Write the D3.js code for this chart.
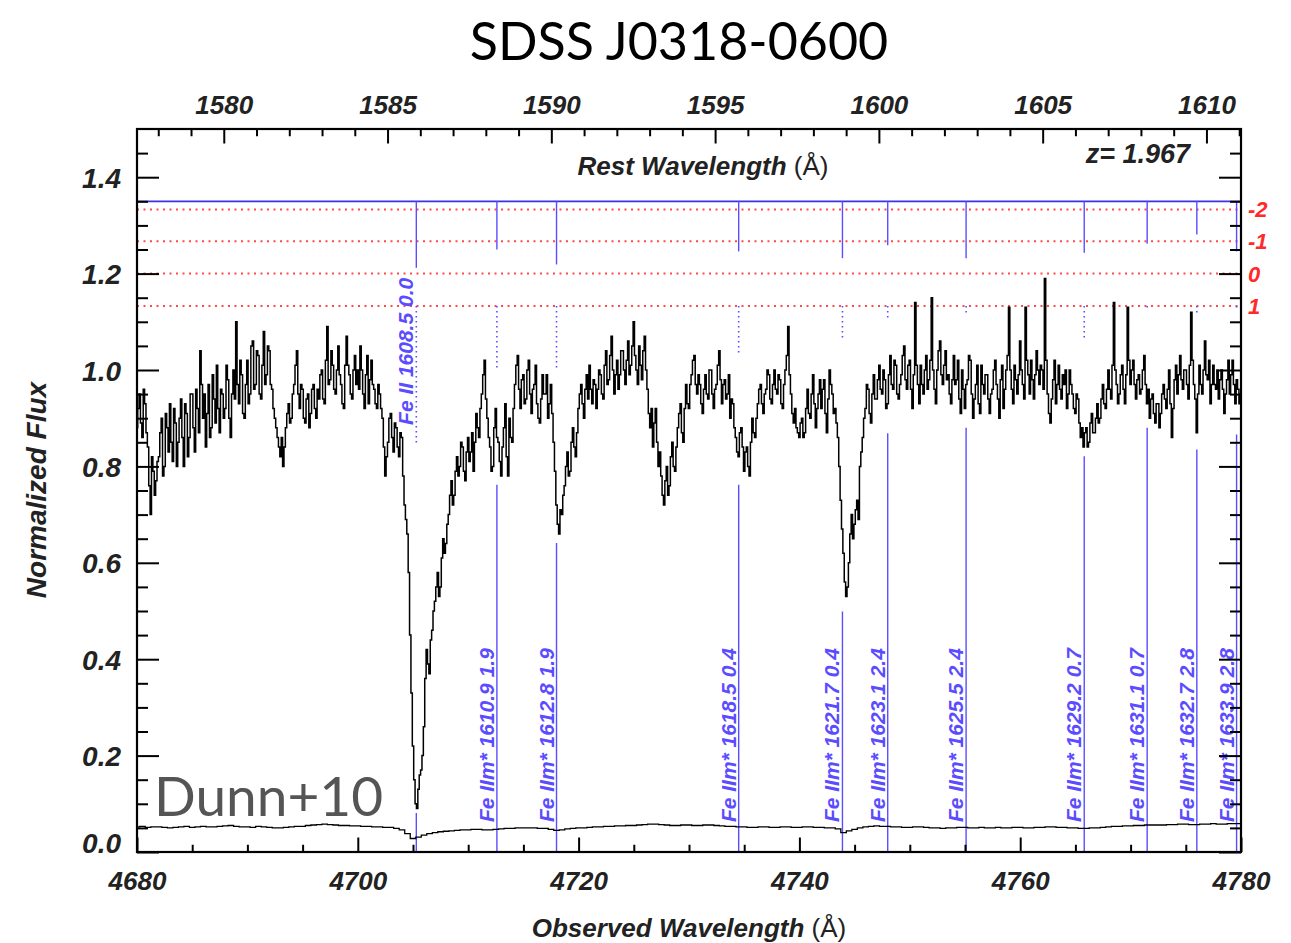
<!DOCTYPE html>
<html>
<head>
<meta charset="utf-8">
<script src="https://cdn.jsdelivr.net/npm/d3@7"></script>
<style>
  html, body { margin: 0; padding: 0; background: #fff; }
  svg { display: block; }
  .tl text { font-family: "Liberation Sans", Arial, sans-serif; font-weight: bold; font-style: italic; font-size: 26px; fill: #222; }
  .tly text { font-size: 28px; }
</style>
</head>
<body>
<svg id="chart" width="1291" height="943"></svg>
<script>
// ---------------- data ----------------
const title = "SDSS J0318-0600";
const redshift = 1.967;
const xDomain = [4680, 4780];
const yDomain = [0, 1.5];
const bottomTicks = [4680, 4700, 4720, 4740, 4760, 4780];
const leftTicks = [0.0, 0.2, 0.4, 0.6, 0.8, 1.0, 1.2, 1.4];
const topTicks = [1580, 1585, 1590, 1595, 1600, 1605, 1610];

// normalized flux sampled every 0.125 Å from 4680 Å (one row per Å)
const fluxStart = 4680, fluxStep = 0.125;
const flux = [
  0.88,0.92,0.95,0.89,0.86,0.96,0.93,0.87, // 4680
  0.84,0.76,0.70,0.82,0.79,0.74,0.77,0.81,
  0.82,0.87,0.90,0.78,0.80,0.91,0.88,0.83,
  0.93,0.85,0.81,0.92,0.89,0.80,0.85,0.90,
  0.94,0.86,0.80,0.93,0.91,0.82,0.86,0.95,
  0.95,0.88,0.83,0.96,0.92,0.87,1.04,0.97, // 4685
  0.90,0.95,0.84,0.91,0.97,0.86,0.88,0.99,
  0.94,0.89,1.01,0.92,0.87,0.96,0.95,0.90,
  0.92,1.01,0.98,0.90,0.86,0.95,1.00,0.94,
  1.10,0.97,0.93,1.02,0.99,0.91,0.90,0.97,
  1.02,0.93,0.95,1.05,1.06,0.96,0.97,1.04, // 4690
  1.03,0.95,0.94,1.01,1.08,0.97,0.99,1.05,
  1.04,0.97,0.96,0.92,0.90,0.88,0.86,0.84,
  0.82,0.86,0.80,0.84,0.88,0.91,0.93,0.89,
  0.90,0.95,0.97,1.01,1.04,0.95,0.92,0.97,
  0.96,0.90,0.89,0.94,0.95,0.88,0.91,0.96, // 4695
  0.97,0.92,0.90,0.96,0.94,0.99,1.00,0.94,
  0.93,1.02,1.09,0.97,0.98,1.04,1.01,0.96,
  0.95,1.00,1.05,0.99,0.97,0.93,0.92,1.01,
  1.07,1.01,0.99,0.95,0.94,1.00,1.03,0.97,
  1.00,0.96,1.05,1.00,0.95,0.92,0.99,1.03, // 4700
  0.93,0.98,1.02,0.97,0.96,0.93,0.92,0.97,
  0.95,0.92,0.90,0.84,0.78,0.82,0.85,0.90,
  0.91,0.86,0.83,0.89,0.88,0.84,0.82,0.87,
  0.86,0.78,0.72,0.69,0.66,0.58,0.45,0.33,
  0.22,0.15,0.10,0.09,0.13,0.16,0.17,0.20, // 4705
  0.26,0.36,0.42,0.39,0.37,0.44,0.46,0.50,
  0.52,0.55,0.58,0.53,0.55,0.61,0.65,0.62,
  0.64,0.68,0.70,0.74,0.77,0.72,0.74,0.79,
  0.82,0.78,0.80,0.85,0.84,0.79,0.77,0.83,
  0.86,0.81,0.83,0.87,0.79,0.85,0.91,0.88, // 4710
  0.86,0.92,0.95,0.99,1.02,0.94,0.90,0.86,
  0.84,0.79,0.80,0.88,0.92,0.86,0.85,0.81,
  0.78,0.84,0.88,0.93,0.82,0.78,0.90,0.86,
  0.85,0.92,0.97,1.01,1.03,0.96,0.92,0.98,
  0.99,0.93,0.94,1.00,1.02,0.95,0.91,0.96, // 4715
  0.97,1.01,0.93,0.90,0.89,0.94,0.99,0.95,
  0.95,0.99,0.90,0.93,0.97,0.91,0.85,0.79,
  0.72,0.68,0.66,0.71,0.70,0.74,0.76,0.80,
  0.83,0.78,0.79,0.85,0.88,0.84,0.82,0.87,
  0.92,0.95,0.97,0.93,0.90,0.96,0.99,0.94, // 4720
  1.01,0.96,0.93,0.98,0.97,0.92,0.96,1.00,
  0.99,0.95,0.94,1.01,1.04,0.97,0.98,1.03,
  1.07,1.00,0.95,0.99,1.02,0.96,0.99,1.04,
  1.04,1.00,0.97,1.02,1.06,0.99,1.01,1.05,
  1.10,1.03,1.00,0.97,1.05,1.01,0.98,1.04, // 4725
  1.07,1.00,0.96,0.91,0.88,0.92,0.84,0.89,
  0.92,0.85,0.80,0.83,0.78,0.74,0.72,0.77,
  0.80,0.74,0.76,0.82,0.85,0.80,0.79,0.84,
  0.88,0.91,0.93,0.87,0.85,0.92,0.97,0.93,
  0.92,0.97,0.99,1.02,1.03,0.97,0.95,0.99, // 4730
  0.97,0.93,0.91,0.96,0.99,0.95,0.94,1.00,
  1.00,0.95,0.92,0.96,0.97,1.01,1.04,0.98,
  0.93,0.97,0.98,0.94,0.95,0.99,0.90,0.94,
  0.93,0.88,0.86,0.83,0.82,0.87,0.88,0.84,
  0.79,0.83,0.84,0.80,0.78,0.85,0.90,0.87, // 4735
  0.86,0.90,0.93,0.96,0.97,0.93,0.91,0.95,
  0.96,1.00,0.99,0.94,0.93,0.97,1.00,0.96,
  0.95,0.99,0.98,0.93,0.92,0.97,1.00,1.03,
  1.09,0.99,0.95,0.91,0.89,0.92,0.88,0.87,
  0.86,0.89,0.90,0.86,0.87,0.92,0.96,0.91, // 4740
  0.90,0.95,0.99,0.93,0.88,0.92,0.95,0.98,
  0.92,0.96,0.98,0.91,0.87,0.94,1.00,0.97,
  0.95,0.91,0.92,0.89,0.86,0.80,0.73,0.67,
  0.62,0.56,0.53,0.55,0.60,0.66,0.70,0.65,
  0.68,0.71,0.73,0.69,0.80,0.83,0.86,0.90, // 4745
  0.92,0.97,0.96,0.91,0.89,0.95,0.99,0.94,
  0.94,0.98,1.01,0.96,0.95,1.00,0.98,0.92,
  0.93,0.99,1.03,0.97,0.96,1.02,1.01,0.95,
  0.94,0.97,0.99,1.03,1.05,0.98,0.96,1.01,
  1.02,0.96,0.92,0.99,1.14,1.01,0.97,0.93, // 4750
  1.01,0.97,0.95,1.00,1.03,0.96,0.98,1.02,
  1.15,1.00,0.96,0.93,1.00,1.04,1.06,0.99,
  0.97,1.01,1.04,0.98,0.99,0.95,0.93,0.98,
  1.03,0.97,0.98,1.02,0.94,0.91,1.00,0.96,
  0.92,0.97,0.98,1.03,1.02,0.95,0.90,0.94, // 4755
  0.97,1.01,0.93,0.91,1.01,0.97,0.95,0.99,
  0.99,0.94,0.91,0.95,0.96,1.00,1.02,0.97,
  0.94,0.90,0.98,1.01,0.92,0.96,1.00,1.03,
  1.13,1.00,0.96,0.93,1.01,0.98,0.95,0.99,
  1.06,1.00,0.97,0.94,1.13,1.02,0.99,0.95, // 4760
  1.02,0.98,0.94,0.99,1.04,1.00,0.97,1.01,
  1.00,0.96,1.19,1.02,0.95,0.91,0.89,0.94,
  0.98,1.02,0.93,0.97,1.01,0.96,0.94,0.99,
  0.97,1.00,0.92,0.95,1.00,0.97,0.95,0.92,
  0.91,0.95,0.94,0.89,0.86,0.88,0.84,0.87, // 4765
  0.88,0.84,0.85,0.89,0.91,0.87,0.87,0.90,
  0.93,0.89,0.90,0.94,0.97,0.93,0.92,0.96,
  1.00,0.96,0.94,1.01,1.14,1.00,0.97,0.93,
  0.95,0.99,1.01,0.96,0.93,0.99,1.13,1.02,
  0.97,1.00,1.02,0.97,0.94,0.98,0.99,0.95, // 4770
  0.96,1.00,1.03,0.97,0.93,0.96,0.90,0.94,
  0.95,0.91,0.89,0.93,0.93,0.88,0.91,0.95,
  0.97,0.94,0.92,0.96,1.00,0.93,0.86,0.92,
  0.98,1.01,0.95,0.99,1.03,0.98,0.96,1.00,
  1.00,0.97,0.94,1.01,1.12,1.02,0.97,0.94, // 4775
  0.87,0.95,1.01,0.97,0.95,1.00,1.06,0.99,
  0.98,1.02,0.93,0.97,1.01,0.97,0.96,1.00,
  0.94,0.98,1.00,0.96,0.91,0.95,0.98,1.02,
  0.95,0.99,1.02,0.97,0.93,0.98,0.96,0.93,
  0.95 // 4780
];

// error spectrum sampled every 0.5 Å from 4680 Å
const errStart = 4680, errStep = 0.5;
const errFlux = [
  0.052,0.053,0.051,0.052,0.052,0.051,0.050,0.051,0.052,0.053,0.051,0.052,0.053,0.052,0.052,0.053,0.054,0.055,0.053,0.052, // 4680-4689.5
  0.052,0.051,0.053,0.052,0.051,0.050,0.050,0.051,0.052,0.053,0.053,0.055,0.056,0.057,0.058,0.057,0.056,0.055,0.055,0.054, // 4690-4699.5
  0.054,0.053,0.053,0.052,0.052,0.051,0.051,0.049,0.046,0.038,0.028,0.031,0.035,0.038,0.040,0.042,0.043,0.044,0.045,0.046, // 4700-4709.5
  0.046,0.047,0.047,0.046,0.046,0.047,0.048,0.049,0.049,0.050,0.050,0.050,0.050,0.049,0.049,0.047,0.045,0.046,0.048,0.049, // 4710-4719.5
  0.050,0.050,0.051,0.052,0.052,0.053,0.053,0.054,0.054,0.055,0.055,0.056,0.057,0.058,0.058,0.057,0.056,0.055,0.055,0.056, // 4720-4729.5
  0.056,0.055,0.055,0.056,0.056,0.055,0.054,0.053,0.053,0.052,0.052,0.051,0.051,0.052,0.052,0.051,0.051,0.052,0.052,0.051, // 4730-4739.5
  0.051,0.052,0.052,0.051,0.051,0.050,0.050,0.048,0.040,0.044,0.047,0.050,0.052,0.053,0.054,0.053,0.053,0.052,0.052,0.051, // 4740-4749.5
  0.051,0.052,0.052,0.051,0.050,0.050,0.049,0.050,0.050,0.051,0.051,0.050,0.050,0.051,0.050,0.050,0.051,0.050,0.050,0.051, // 4750-4759.5
  0.051,0.050,0.050,0.051,0.051,0.052,0.052,0.051,0.051,0.050,0.050,0.049,0.049,0.050,0.050,0.051,0.052,0.053,0.053,0.054, // 4760-4769.5
  0.054,0.055,0.055,0.056,0.056,0.056,0.056,0.057,0.057,0.058,0.058,0.057,0.057,0.058,0.058,0.059,0.058,0.058,0.059,0.059, // 4770-4779.5
  0.059
];

// absorption line markers
const lineSpecies = ["Fe II","Fe IIm*","Fe IIm*","Fe IIm*","Fe IIm*","Fe IIm*","Fe IIm*","Fe IIm*","Fe IIm*","Fe IIm*","Fe IIm*"];
const lineRest    = ["1608.5","1610.9","1612.8","1618.5","1621.7","1623.1","1625.5","1629.2","1631.1","1632.7","1633.9"];
const lineEnergy  = ["0.0","1.9","1.9","0.4","0.4","2.4","2.4","0.7","0.7","2.8","2.8"];
const lineObs     = [4705.3,4712.6,4718.0,4734.5,4743.9,4748.0,4755.1,4765.8,4771.5,4776.0,4779.6];
const lineTickEnd = [1.212,1.250,1.219,1.246,1.232,1.259,1.232,1.243,1.262,1.281,1.246];
const lineDotEnd  = [0.845,1.004,1.004,1.035,1.066,1.108,1.115,1.066,1.129,1.115,1.125];
const lineLowTop  = [0.081,0.762,0.641,0.762,0.499,0.869,0.880,0.821,0.880,0.835,0.866];
const markerLevel = 1.35;
const ladderLevels = [1.333,1.267,1.2,1.133];
const ladderLabels = ["-2","-1","0","1"];

// ---------------- drawing ----------------
const L = 137, R = 1241, T = 129, B = 852;
const svg = d3.select("#chart");
const x = d3.scaleLinear().domain(xDomain).range([L, R]);
const y = d3.scaleLinear().domain(yDomain).range([B, T]);
const xRest = d3.scaleLinear().domain(xDomain.map(v => v / (1 + redshift))).range([L, R]);

svg.append("defs").append("clipPath").attr("id", "clip")
  .append("rect").attr("x", L).attr("y", T).attr("width", R - L).attr("height", B - T);

const blue = "#5b4dff";
const plot = svg.append("g").attr("clip-path", "url(#clip)");

// red ladder dotted lines
plot.selectAll(".ladder").data(ladderLevels).join("line")
  .attr("x1", L).attr("x2", R)
  .attr("y1", d => y(d)).attr("y2", d => y(d))
  .attr("stroke", "#ff4a4a").attr("stroke-width", 2).attr("stroke-dasharray", "2,4.5");

// blue marker line
plot.append("line").attr("x1", L).attr("x2", R)
  .attr("y1", y(markerLevel)).attr("y2", y(markerLevel))
  .attr("stroke", "#3b32e6").attr("stroke-width", 1.8);

const idx = d3.range(lineObs.length);
plot.selectAll(".utick").data(idx).join("line")
  .attr("x1", i => x(lineObs[i])).attr("x2", i => x(lineObs[i]))
  .attr("y1", y(markerLevel)).attr("y2", i => y(lineTickEnd[i]))
  .attr("stroke", blue).attr("stroke-width", 1.4);
plot.selectAll(".dtick").data(idx).join("line")
  .attr("x1", i => x(lineObs[i])).attr("x2", i => x(lineObs[i]))
  .attr("y1", y(ladderLevels[3])).attr("y2", i => y(lineDotEnd[i]))
  .attr("stroke", blue).attr("stroke-width", 1.6).attr("stroke-dasharray", "1.6,3.4");
plot.selectAll(".ltick").data(idx).join("line")
  .attr("x1", i => x(lineObs[i])).attr("x2", i => x(lineObs[i]))
  .attr("y1", i => y(lineLowTop[i])).attr("y2", y(0))
  .attr("stroke", blue).attr("stroke-width", 1.4);

// spectrum
const specPts = flux.map((f, i) => [fluxStart + i * fluxStep, f]);
plot.append("path").datum(specPts)
  .attr("fill", "none").attr("stroke", "#000").attr("stroke-width", 1.5)
  .attr("d", d3.line().x(d => x(d[0])).y(d => y(d[1])).curve(d3.curveStep));

const errPts = errFlux.map((f, i) => [errStart + i * errStep, f]);
plot.append("path").datum(errPts)
  .attr("fill", "none").attr("stroke", "#000").attr("stroke-width", 1.3)
  .attr("d", d3.line().x(d => x(d[0])).y(d => y(d[1])).curve(d3.curveStep));

// line labels
const labG = svg.append("g");
idx.forEach(i => {
  const upper = i === 0;
  const ly = upper ? y(0.886) : y(0.062);
  const lx = x(lineObs[i]) - 3;
  const t = labG.append("text")
    .attr("transform", `translate(${lx},${ly}) rotate(-90)`)
    .attr("font-family", "Liberation Sans, Arial, sans-serif")
    .attr("font-style", "italic").attr("font-weight", "bold").attr("font-size", 21).attr("fill", blue);
  t.text(lineSpecies[i] + " " + lineRest[i] + " " + lineEnergy[i]);
});

// ladder labels (right)
svg.selectAll(".ladlab").data(ladderLevels).join("text")
  .attr("x", 1248).attr("y", d => y(d) + 8)
  .attr("font-family", "Liberation Sans, Arial, sans-serif")
  .attr("font-weight", "bold").attr("font-style", "italic").attr("font-size", 22)
  .attr("fill", "#ff2a2a")
  .text((d, i) => ladderLabels[i]);

// Dunn+10
svg.append("text").attr("x", 154).attr("y", 816)
  .attr("font-family", "Lato, sans-serif").attr("font-size", 55).attr("fill", "#555")
  .text("Dunn+10");

// ---------------- axes ----------------
const major = 14.5, majorY = 22;
svg.append("g").attr("class", "tl").attr("transform", `translate(0,${B})`)
  .call(d3.axisBottom(x).tickValues(bottomTicks).tickFormat(d3.format("d")).tickSize(-major).tickPadding(20));
svg.append("g").attr("transform", `translate(0,${B})`)
  .call(d3.axisBottom(x).tickValues(d3.range(4685, 4780, 5).filter(v => v % 20)).tickFormat("").tickSize(-major / 2));
svg.append("g").attr("class", "tl").attr("transform", `translate(0,${T})`)
  .call(d3.axisTop(xRest).tickValues(topTicks).tickFormat(d3.format("d")).tickSize(-major).tickPadding(15));
svg.append("g").attr("transform", `translate(0,${T})`)
  .call(d3.axisTop(xRest).tickValues(d3.range(1578, 1612, 1).filter(v => v % 5)).tickFormat("").tickSize(-major / 2));
const gL = svg.append("g").attr("class", "tl tly").attr("transform", `translate(${L},0)`)
  .call(d3.axisLeft(y).tickValues(leftTicks).tickFormat(d3.format(".1f")).tickSize(-majorY).tickPadding(16));
const minorY = d3.range(0.05, 1.5, 0.05).map(v => +v.toFixed(2)).filter(v => Math.abs(v * 5 - Math.round(v * 5)) > 1e-6);
svg.append("g").attr("transform", `translate(${L},0)`)
  .call(d3.axisLeft(y).tickValues(minorY).tickFormat("").tickSize(-majorY / 2));
svg.append("g").attr("transform", `translate(${R},0)`)
  .call(d3.axisRight(y).tickValues(leftTicks).tickFormat("").tickSize(-majorY));
svg.append("g").attr("transform", `translate(${R},0)`)
  .call(d3.axisRight(y).tickValues(minorY).tickFormat("").tickSize(-majorY / 2));

svg.selectAll(".domain").remove();
svg.selectAll(".tick line").attr("stroke", "#000").attr("stroke-width", 2);
gL.selectAll("text").attr("dy", d => d === 0 ? "0.0em" : "0.36em");

// frame
svg.append("rect").attr("x", L).attr("y", T).attr("width", R - L).attr("height", B - T)
  .attr("fill", "none").attr("stroke", "#000").attr("stroke-width", 2.2);

// titles
const bi = sel => sel.attr("font-family", "Liberation Sans, Arial, sans-serif")
  .attr("font-weight", "bold").attr("font-style", "italic").attr("fill", "#222");

svg.append("text").attr("x", 679).attr("y", 60).attr("text-anchor", "middle")
  .attr("font-family", "Lato, sans-serif").attr("font-size", 52).attr("fill", "#000").text(title);

const xt = svg.append("text").attr("x", 689).attr("y", 937).attr("text-anchor", "middle").attr("font-size", 26).call(bi);
xt.append("tspan").text("Observed Wavelength ");
xt.append("tspan").attr("font-weight", "normal").attr("font-style", "normal").text("(Å)");

const rt = svg.append("text").attr("x", 703).attr("y", 175).attr("text-anchor", "middle").attr("font-size", 26).call(bi);
rt.append("tspan").text("Rest Wavelength ");
rt.append("tspan").attr("font-weight", "normal").attr("font-style", "normal").text("(Å)");

svg.append("text").attr("x", 1190).attr("y", 163).attr("text-anchor", "end").attr("font-size", 27).call(bi)
  .text("z= " + redshift.toFixed(3));

svg.append("text").attr("transform", "translate(46,490) rotate(-90)").attr("text-anchor", "middle")
  .attr("font-size", 28).call(bi).text("Normalized Flux");
</script>
</body>
</html>
